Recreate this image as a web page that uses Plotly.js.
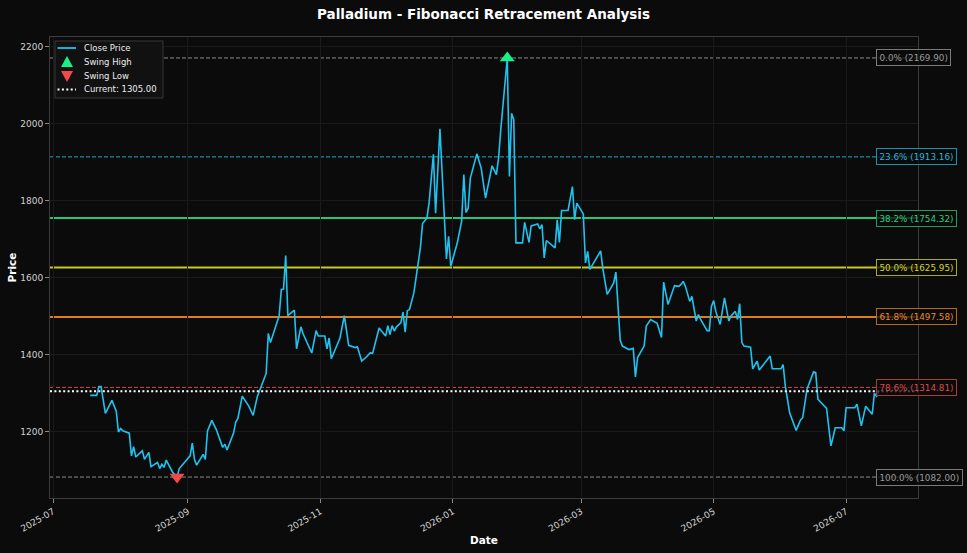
<!DOCTYPE html>
<html>
<head>
<meta charset="utf-8">
<script src="https://cdn.plot.ly/plotly-3.0.1.min.js"></script>
<style>
  html, body { margin: 0; padding: 0; background: #0b0b0b; }
  #chart { width: 967px; height: 553px; }
</style>
</head>
<body>
<div id="chart"></div>
<script>
// ---- Data ----
const dates = [
  '2025-07-18','2025-07-21','2025-07-22','2025-07-23','2025-07-25','2025-07-28','2025-07-30','2025-07-31',
  '2025-08-01','2025-08-02','2025-08-05','2025-08-06','2025-08-07','2025-08-08','2025-08-11','2025-08-12',
  '2025-08-14','2025-08-15','2025-08-18','2025-08-19','2025-08-20','2025-08-21','2025-08-22','2025-08-25',
  '2025-08-27','2025-08-28',
  '2025-09-02','2025-09-03','2025-09-04','2025-09-05','2025-09-08','2025-09-09','2025-09-10','2025-09-12',
  '2025-09-14','2025-09-17','2025-09-18','2025-09-19','2025-09-22','2025-09-23','2025-09-24','2025-09-26',
  '2025-09-29',
  '2025-10-01','2025-10-03','2025-10-06','2025-10-07','2025-10-08','2025-10-09','2025-10-13','2025-10-14',
  '2025-10-15','2025-10-16','2025-10-17','2025-10-20','2025-10-21','2025-10-23','2025-10-24','2025-10-28',
  '2025-10-30','2025-10-31',
  '2025-11-03','2025-11-04','2025-11-05','2025-11-06','2025-11-10','2025-11-12','2025-11-14','2025-11-17',
  '2025-11-18','2025-11-20','2025-11-22','2025-11-24','2025-11-25','2025-11-28',
  '2025-12-01','2025-12-02','2025-12-03','2025-12-04','2025-12-05','2025-12-06','2025-12-08','2025-12-09',
  '2025-12-10','2025-12-11','2025-12-12','2025-12-14','2025-12-15','2025-12-17','2025-12-18','2025-12-20',
  '2025-12-21','2025-12-23','2025-12-24','2025-12-26','2025-12-29','2025-12-30','2025-12-31',
  '2026-01-03','2026-01-05','2026-01-06','2026-01-07','2026-01-08','2026-01-09','2026-01-12','2026-01-14',
  '2026-01-16','2026-01-19','2026-01-21','2026-01-22','2026-01-23','2026-01-26','2026-01-27','2026-01-28',
  '2026-01-29','2026-01-30',
  '2026-02-02','2026-02-03','2026-02-05','2026-02-06','2026-02-09','2026-02-10','2026-02-11','2026-02-12',
  '2026-02-13','2026-02-17','2026-02-18','2026-02-19','2026-02-20','2026-02-23','2026-02-25','2026-02-26',
  '2026-02-27',
  '2026-03-02','2026-03-03','2026-03-04','2026-03-05','2026-03-10','2026-03-11','2026-03-13','2026-03-16',
  '2026-03-17','2026-03-19','2026-03-20','2026-03-23','2026-03-25','2026-03-26','2026-03-27','2026-03-30',
  '2026-03-31',
  '2026-04-02','2026-04-05','2026-04-07','2026-04-08','2026-04-10','2026-04-13','2026-04-15','2026-04-16',
  '2026-04-17','2026-04-18','2026-04-19','2026-04-20','2026-04-21','2026-04-23','2026-04-24','2026-04-25',
  '2026-04-28','2026-04-29','2026-04-30',
  '2026-05-01','2026-05-02','2026-05-04','2026-05-06','2026-05-08','2026-05-09','2026-05-11','2026-05-12',
  '2026-05-13','2026-05-14','2026-05-15','2026-05-18','2026-05-19','2026-05-21','2026-05-22','2026-05-27',
  '2026-05-28',
  '2026-06-01','2026-06-02','2026-06-03','2026-06-05','2026-06-08','2026-06-10','2026-06-11','2026-06-13',
  '2026-06-16','2026-06-17','2026-06-18','2026-06-22','2026-06-24','2026-06-26','2026-06-29','2026-06-30',
  '2026-07-01','2026-07-05','2026-07-06','2026-07-08','2026-07-10','2026-07-13','2026-07-14','2026-07-15',
  '2026-07-16'
];
const closes = [
  1294,1294,1317,1317,1247,1281,1253,1199,
  1208,1202,1196,1137,1161,1134,1150,1128,
  1146,1109,1120,1104,1115,1107,1126,1094,
  1082,1104,
  1137,1170,1128,1113,1141,1128,1202,1229,
  1206,1159,1167,1152,1196,1225,1234,1292,
  1266,
  1242,1292,1337,1351,1455,1431,1501,1569,
  1570,1657,1501,1515,1415,1472,1454,1404,
  1462,1448,
  1448,1415,1443,1389,1443,1501,1424,1418,
  1420,1383,1393,1405,1403,1469,
  1448,1475,1452,1475,1461,1472,1482,1510,
  1458,1514,1517,1560,1599,1677,1740,1754,
  1793,1920,1767,1986,1648,1707,1629,
  1690,1746,1867,1769,1780,1858,1921,1884,
  1806,1890,1867,1910,1983,2169.9,1862,2026,
  2009,1690,
  1690,1743,1691,1734,1739,1726,1737,1651,
  1696,1677,1750,1691,1774,1774,1836,1750,
  1793,
  1765,1638,1668,1621,1669,1623,1556,1586,
  1614,1437,1422,1413,1416,1342,1392,1422,
  1474,
  1491,1481,1444,1588,1530,1579,1577,1582,
  1590,1577,1560,1538,1551,1487,1504,1491,
  1462,1462,1525,
  1540,1512,1478,1547,1487,1500,1512,1491,
  1532,1431,1422,1419,1363,1383,1360,1396,
  1363,
  1363,1374,1318,1249,1203,1230,1236,1310,
  1355,1353,1284,1260,1163,1210,1210,1202,
  1262,1262,1271,1215,1266,1245,1299,1292,
  1305
];
const fibRatios = [0, 0.236, 0.382, 0.5, 0.618, 0.786, 1.0];
const fibNames  = ['0.0%', '23.6%', '38.2%', '50.0%', '61.8%', '78.6%', '100.0%'];
const currentPrice = 1305.00;
const xTickLabels = ['2025-07','2025-09','2025-11','2026-01','2026-03','2026-05','2026-07'];
const legendNames = ['Close Price', 'Swing High', 'Swing Low', 'Current: ' + currentPrice.toFixed(2)];

// ---- Styles ----
const fibColors = ['#8c8c8c', '#22a9c9', '#27c47a', '#c9c926', '#de7d1c', '#d9474a', '#8c8c8c'];
const fibDash   = ['4px,2px', '4px,2px', 'solid', 'solid', 'solid', '4px,2px', '4px,2px'];
const fibWidth  = [1, 1, 2, 2, 2, 1, 1];
const fibLabelColors = ['#9a9a9a', '#2ab4d6', '#2ecc7e', '#d2d22a', '#e68a2e', '#dd4a4d', '#9a9a9a'];
const fibBorderColors = ['#7a7a7a', '#1f8fae', '#239c62', '#a8a822', '#b06a22', '#a83a3c', '#7a7a7a'];
const lineColor = '#1fc3ef', highColor = '#19f08a', lowColor = '#f24848';
const curDash = '2px,2.4px';

let hiIdx = 0, loIdx = 0;
closes.forEach((v, i) => { if (v > closes[hiIdx]) hiIdx = i; if (v < closes[loIdx]) loIdx = i; });
const swingHigh = closes[hiIdx], swingLow = closes[loIdx];
const fibLevels = fibRatios.map(r => swingHigh - (swingHigh - swingLow) * r);

const FONT = 'DejaVu Sans, sans-serif';

const traces = [
  { x: dates, y: closes, type: 'scatter', mode: 'lines', name: legendNames[0],
    line: { color: lineColor, width: 1.6 } },
  { x: [dates[hiIdx]], y: [swingHigh], type: 'scatter', mode: 'markers', name: legendNames[1],
    marker: { symbol: 'triangle-up', size: 13, color: highColor } },
  { x: [dates[loIdx]], y: [swingLow], type: 'scatter', mode: 'markers', name: legendNames[2],
    marker: { symbol: 'triangle-down', size: 13, color: lowColor } }
];

const shapes = fibLevels.map((lv, i) => ({
  type: 'line', xref: 'paper', x0: 0, x1: 1, yref: 'y', y0: lv, y1: lv,
  line: { color: fibColors[i], width: fibWidth[i], dash: fibDash[i] }, layer: 'below'
}));
shapes.push({
  type: 'line', xref: 'paper', x0: 0, x1: 1, yref: 'y', y0: currentPrice, y1: currentPrice,
  line: { color: '#ffffff', width: 2, dash: curDash }, layer: 'above'
});

const annotations = fibLevels.map((lv, i) => ({
  xref: 'paper', x: 0.9516, xanchor: 'left', yref: 'y', y: lv, yanchor: 'middle',
  text: fibNames[i] + ' (' + lv.toFixed(2) + ')', showarrow: false,
  font: { family: FONT, size: 8.8, color: fibLabelColors[i] },
  bgcolor: 'rgba(11,11,11,0.75)', bordercolor: fibBorderColors[i], borderwidth: 1, borderpad: 2.5
}));

// ---- Compact legend (drawn in paper coordinates) ----
const PW = 868, PH = 461;              // plot area size in px
const px = v => (v - 50) / PW;         // figure px -> paper x
const py = v => (498 - v) / PH;        // figure px -> paper y
const legRows = [48, 62, 76, 89.5].map(py);
shapes.push({ type: 'rect', xref: 'paper', yref: 'paper', x0: px(55), x1: px(163), y0: py(98), y1: py(41),
  fillcolor: '#111111', line: { color: '#383838', width: 1 }, layer: 'above' });
shapes.push({ type: 'line', xref: 'paper', yref: 'paper', x0: px(57.5), x1: px(76), y0: legRows[0], y1: legRows[0],
  line: { color: lineColor, width: 1.8 }, layer: 'above' });
shapes.push({ type: 'path', xref: 'paper', yref: 'paper', xsizemode: 'pixel', ysizemode: 'pixel',
  xanchor: px(67), yanchor: legRows[1], path: 'M -6 -5 L 6 -5 L 0 6 Z',
  fillcolor: highColor, line: { width: 0 }, layer: 'above' });
shapes.push({ type: 'path', xref: 'paper', yref: 'paper', xsizemode: 'pixel', ysizemode: 'pixel',
  xanchor: px(67), yanchor: legRows[2], path: 'M -6 5 L 6 5 L 0 -6 Z',
  fillcolor: lowColor, line: { width: 0 }, layer: 'above' });
shapes.push({ type: 'line', xref: 'paper', yref: 'paper', x0: px(57.5), x1: px(76), y0: legRows[3], y1: legRows[3],
  line: { color: '#ffffff', width: 2, dash: curDash }, layer: 'above' });
legendNames.forEach((nm, i) => annotations.push({
  xref: 'paper', yref: 'paper', x: px(82), y: legRows[i], xanchor: 'left', yanchor: 'middle',
  text: nm, showarrow: false, font: { family: FONT, size: 8.5, color: '#eeeeee' }
}));

const layout = {
  width: 967, height: 553,
  paper_bgcolor: '#0b0b0b', plot_bgcolor: '#0b0b0b',
  margin: { l: 50, r: 49, t: 37, b: 55 },
  font: { family: FONT, color: '#dddddd', size: 9 },
  title: { text: '<b>Palladium - Fibonacci Retracement Analysis</b>', x: 0.5, xanchor: 'center',
           y: 0.975, yanchor: 'middle', font: { family: FONT, size: 13.5, color: '#ffffff' } },
  xaxis: {
    type: 'date', range: ['2025-06-29 12:00', '2026-08-03 02:00'],
    tickvals: xTickLabels.map(s => s + '-01'), ticktext: xTickLabels, tickangle: -30,
    ticks: 'outside', ticklen: 4, tickcolor: '#888', tickfont: { family: FONT, size: 9, color: '#d0d0d0' },
    showgrid: true, gridcolor: '#1a1a1a', gridwidth: 1,
    showline: true, linecolor: '#3c3c3c', linewidth: 1, mirror: true, zeroline: false,
    title: { text: '<b>Date</b>', font: { family: FONT, size: 10.5, color: '#ffffff' }, standoff: 3 }
  },
  yaxis: {
    range: [1027.6, 2224.3], dtick: 200, tick0: 1200,
    ticks: 'outside', ticklen: 4, tickcolor: '#888', tickfont: { family: FONT, size: 9, color: '#d0d0d0' },
    showgrid: true, gridcolor: '#1a1a1a', gridwidth: 1,
    showline: true, linecolor: '#3c3c3c', linewidth: 1, mirror: true, zeroline: false,
    title: { text: '<b>Price</b>', font: { family: FONT, size: 10.5, color: '#ffffff' }, standoff: 1 }
  },
  showlegend: false,
  shapes: shapes,
  annotations: annotations
};

Plotly.newPlot('chart', traces, layout, { displayModeBar: false, staticPlot: true });
</script>
</body>
</html>
